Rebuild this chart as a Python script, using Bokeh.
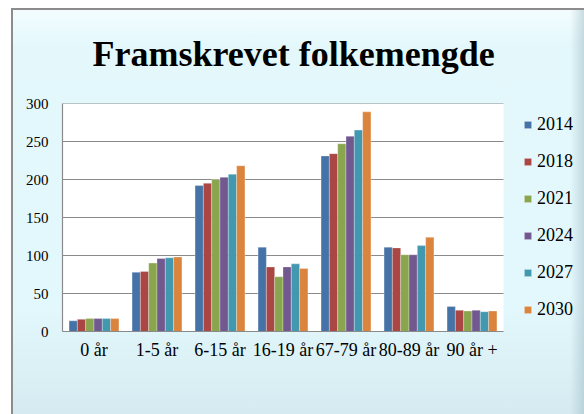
from bokeh.plotting import figure
from bokeh.models import (Range1d, Legend, LegendItem, FixedTicker, Title, BoxAnnotation)
from bokeh.embed import file_html
from bokeh.resources import INLINE

categories = ["0 år", "1-5 år", "6-15 år", "16-19 år", "67-79 år", "80-89 år", "90 år +"]
years = ["2014", "2018", "2021", "2024", "2027", "2030"]
v2014 = [14, 78, 192, 111, 231, 111, 33]
v2018 = [16, 79, 195, 85, 234, 110, 28]
v2021 = [17, 90, 200, 72, 247, 101, 27]
v2024 = [17, 96, 203, 85, 257, 101, 28]
v2027 = [17, 97, 207, 89, 265, 113, 26]
v2030 = [17, 98, 218, 83, 289, 124, 27]
colors = ["#4572A7", "#AA4643", "#89A54E", "#71588F", "#4198AF", "#DB843D"]
y_ticks = [0, 50, 100, 150, 200, 250, 300]

series = [v2014, v2018, v2021, v2024, v2027, v2030]
idx = list(range(len(categories)))
n = len(categories)

SERIF = "Liberation Serif"

# frame: plot area for categories is 441px wide (63px per category); frame extends
# to the right to hold the legend
cat_px = 63
frame_w = 584 - 62 - 9
x_start = -0.5
x_end = x_start + frame_w / cat_px

p = figure(x_range=Range1d(x_start, x_end), y_range=Range1d(0, 300),
           width=584, height=414, output_backend="svg", toolbar_location=None,
           min_border_left=62, min_border_right=9, min_border_top=103,
           min_border_bottom=83)
p.border_fill_alpha = 0
p.background_fill_alpha = 0
p.outline_line_color = None
p.styles = {
    "background": ("linear-gradient(#8C8C8C, #8C8C8C) 11px 8px / 2px 100% no-repeat, "
                   "linear-gradient(#8C8C8C, #8C8C8C) 11px 8px / 100% 2px no-repeat, "
                   "linear-gradient(to right, rgba(150,180,190,0) 0%, rgba(150,180,190,0.45) 100%) "
                   "570px 10px / 14px 100% no-repeat, "
                   "linear-gradient(to bottom, #F4FDFF 0%, #E4F8FC 9%, #E3F8FC 72%, #D4EAF0 100%) "
                   "11px 8px / 100% 100% no-repeat, white"),
}

# white plot area behind the bars
p.add_layout(BoxAnnotation(left=-0.5, right=n - 0.5, bottom=0, top=300,
                           fill_color="white", fill_alpha=1, line_color=None,
                           level="underlay"))

# horizontal gridlines limited to the category area
p.segment(x0=[-0.5] * len(y_ticks), x1=[n - 0.5] * len(y_ticks), y0=y_ticks, y1=y_ticks,
          line_color="#8A8A8A", line_width=1.2)

bw = 0.132
items = []
for i, yr in enumerate(years):
    xs = [k + (i - 2.5) * bw for k in idx]
    r = p.vbar(x=xs, top=series[i], width=bw, fill_color=colors[i],
               line_color="white", line_alpha=0.5, line_width=0.6)
    items.append(LegendItem(label=yr, renderers=[r]))

legend = Legend(items=items, location=(461, 11), orientation="vertical",
                glyph_width=9, glyph_height=9, label_height=20, spacing=16,
                padding=0, margin=0, border_line_color=None,
                background_fill_alpha=0, label_text_font=SERIF,
                label_text_color="black",
                label_text_font_size="18px", label_standoff=5)
p.add_layout(legend, "center")

p.xgrid.grid_line_color = None
p.ygrid.grid_line_color = None

p.yaxis.ticker = FixedTicker(ticks=y_ticks)
p.yaxis.axis_line_color = "#8A8A8A"
p.yaxis.axis_line_width = 1.2
p.yaxis.major_tick_line_color = None
p.yaxis.major_tick_out = 0
p.yaxis.major_tick_in = 0
p.yaxis.minor_tick_line_color = None
p.yaxis.major_label_text_font = SERIF
p.yaxis.major_label_text_font_size = "15px"
p.yaxis.major_label_text_color = "black"
p.yaxis.major_label_standoff = 14

p.xaxis.ticker = FixedTicker(ticks=idx)
p.xaxis.major_label_overrides = {k: c for k, c in zip(idx, categories)}
p.xaxis.bounds = (-0.5, n - 0.5)
p.xaxis.axis_line_color = "#8A8A8A"
p.xaxis.axis_line_width = 1.2
p.xaxis.major_tick_line_color = None
p.xaxis.major_tick_out = 0
p.xaxis.major_tick_in = 0
p.xaxis.minor_tick_line_color = None
p.xaxis.major_label_text_font = SERIF
p.xaxis.major_label_text_font_size = "18px"
p.xaxis.major_label_text_color = "black"
p.xaxis.major_label_standoff = 8

title = Title(text="Framskrevet folkemengde", align="left", offset=30, standoff=56,
              vertical_align="top",
              text_font=SERIF, text_font_size="36px", text_font_style="bold",
              text_color="black")
p.add_layout(title, "above")

open("out.html", "w").write(file_html(p, INLINE))
